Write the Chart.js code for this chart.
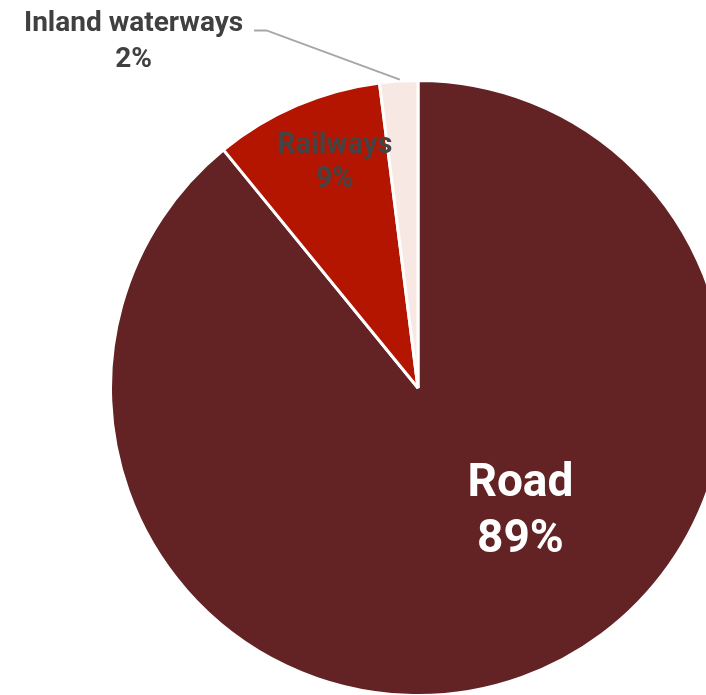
<!DOCTYPE html>
<html>
<head>
<meta charset="utf-8">
<script src="https://cdn.jsdelivr.net/npm/chart.js@4.4.1/dist/chart.umd.min.js"></script>
<style>
  html, body { margin: 0; padding: 0; background: #fff; overflow: hidden; }
  #wrap { width: 730px; height: 698px; }
</style>
</head>
<body>
<div id="wrap"><canvas id="pie" width="730" height="698"></canvas></div>
<script>
// modes of freight transport, share of tonne-km (clockwise from 12 o'clock)
const modes   = ['Road', 'Railways', 'Inland waterways'];
const shares  = [89.1, 8.9, 2.0];
const pctText = ['89%', '9%', '2%'];
const colours = ['#632325', '#b41500', '#f8e8e3'];

// label placement, in units of the pie radius from its centre
const LABELS = [
  { dx: 0.333,  dy: 0.405,  size: 46, lh: 56, color: '#ffffff' },
  { dx: -0.271, dy: -0.732, size: 29, lh: 34, color: '#444444' },
  { dx: -0.925, dy: -1.125, size: 28, lh: 36, color: '#404040' }
];
// leader line for the small slice
const LEADER = [[-0.533, -1.163], [-0.493, -1.163], [-0.059, -1.003]];

const labelPlugin = {
  id: 'pieLabels',
  afterDatasetsDraw(chart) {
    const ctx  = chart.ctx;
    const arc0 = chart.getDatasetMeta(0).data[0];
    const cx = arc0.x, cy = arc0.y, r = arc0.outerRadius;

    ctx.save();
    // leader
    ctx.strokeStyle = '#a6a6a6';
    ctx.lineWidth = 2;
    ctx.beginPath();
    LEADER.forEach(([px, py], i) => {
      const x = cx + px * r, y = cy + py * r;
      if (i === 0) ctx.moveTo(x, y); else ctx.lineTo(x, y);
    });
    ctx.stroke();

    ctx.textAlign = 'center';
    ctx.textBaseline = 'middle';
    modes.forEach((name, i) => {
      const L = LABELS[i];
      const x = cx + L.dx * r, y = cy + L.dy * r;
      ctx.font = 'bold ' + L.size + 'px Roboto, "Noto Sans", sans-serif';
      ctx.fillStyle = L.color;
      ctx.fillText(name, x, y - L.lh / 2);
      ctx.fillText(pctText[i], x, y + L.lh / 2);
    });
    ctx.restore();
  }
};

new Chart(document.getElementById('pie'), {
  type: 'pie',
  data: {
    labels: modes,
    datasets: [{
      data: shares,
      backgroundColor: colours,
      borderColor: '#ffffff',
      borderWidth: 3
    }]
  },
  options: {
    responsive: false,
    animation: false,
    layout: { padding: { left: 109, top: 79, right: 3, bottom: 1 } },
    plugins: {
      legend: { display: false },
      tooltip: { enabled: false }
    }
  },
  plugins: [labelPlugin]
});
</script>
</body>
</html>
